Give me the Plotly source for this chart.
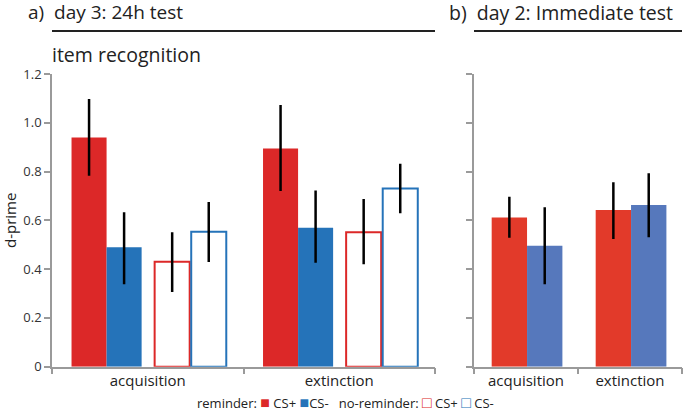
import plotly.graph_objects as go

# ---- data ----
cats = ["acquisition", "extinction"]

# panel a: day 3, 24h test (item recognition)
a_rem_csp = [0.94, 0.895]
a_rem_csp_hi = [1.097, 1.073]
a_rem_csp_lo = [0.783, 0.72]
a_rem_csm = [0.49, 0.57]
a_rem_csm_hi = [0.633, 0.722]
a_rem_csm_lo = [0.338, 0.426]
a_norem_csp = [0.43, 0.551]
a_norem_csp_hi = [0.551, 0.688]
a_norem_csp_lo = [0.306, 0.42]
a_norem_csm = [0.553, 0.731]
a_norem_csm_hi = [0.675, 0.832]
a_norem_csm_lo = [0.429, 0.629]

# panel b: day 2, immediate test
b_csp = [0.612, 0.642]
b_csp_hi = [0.697, 0.756]
b_csp_lo = [0.529, 0.524]
b_csm = [0.496, 0.663]
b_csm_hi = [0.654, 0.793]
b_csm_lo = [0.338, 0.531]

yticks = [0, 0.2, 0.4, 0.6, 0.8, 1.0, 1.2]
yticklabels = ["0", "0.2", "0.4", "0.6", "0.8", "1.0", "1.2"]

RED_A = "#dc2828"
BLUE_A = "#2573b9"
RED_B = "#e23a2a"
BLUE_B = "#5678bc"
FONT = "Open Sans"

W, H = 685, 414


def err(vals, hi, lo):
    return dict(type="data", symmetric=False,
                array=[h - v for v, h in zip(vals, hi)],
                arrayminus=[v - l for v, l in zip(vals, lo)],
                color="black", thickness=2.5, width=0)


fig = go.Figure()

bw = 0.183
# panel a traces
fig.add_trace(go.Bar(x=cats, y=a_rem_csp, width=bw, offset=-0.398,
                     marker=dict(color=RED_A, line=dict(width=0)),
                     error_y=err(a_rem_csp, a_rem_csp_hi, a_rem_csp_lo),
                     name="reminder: CS+", xaxis="x", yaxis="y"))
fig.add_trace(go.Bar(x=cats, y=a_rem_csm, width=bw, offset=-0.215,
                     marker=dict(color=BLUE_A, line=dict(width=0)),
                     error_y=err(a_rem_csm, a_rem_csm_hi, a_rem_csm_lo),
                     name="reminder: CS-", xaxis="x", yaxis="y"))
fig.add_trace(go.Bar(x=cats, y=a_norem_csp, width=bw, offset=0.036,
                     marker=dict(color="white", line=dict(width=2, color=RED_A)),
                     error_y=err(a_norem_csp, a_norem_csp_hi, a_norem_csp_lo),
                     name="no-reminder: CS+", xaxis="x", yaxis="y"))
fig.add_trace(go.Bar(x=cats, y=a_norem_csm, width=bw, offset=0.227,
                     marker=dict(color="white", line=dict(width=2, color=BLUE_A)),
                     error_y=err(a_norem_csm, a_norem_csm_hi, a_norem_csm_lo),
                     name="no-reminder: CS-", xaxis="x", yaxis="y"))

# panel b traces
bwb = 0.34
fig.add_trace(go.Bar(x=cats, y=b_csp, width=bwb, offset=-0.33,
                     marker=dict(color=RED_B, line=dict(width=0)),
                     error_y=err(b_csp, b_csp_hi, b_csp_lo),
                     name="CS+", xaxis="x2", yaxis="y2"))
fig.add_trace(go.Bar(x=cats, y=b_csm, width=bwb, offset=0.01,
                     marker=dict(color=BLUE_B, line=dict(width=0)),
                     error_y=err(b_csm, b_csm_hi, b_csm_lo),
                     name="CS-", xaxis="x2", yaxis="y2"))

ydom = [(H - 366.7) / H, (H - 74) / H]
axis_common = dict(showline=True, linecolor="#9a9a9a", linewidth=1.5,
                   ticks="outside", tickcolor="#9a9a9a", ticklen=6, tickwidth=1.5,
                   showgrid=False, zeroline=False)

fig.update_layout(
    width=W, height=H,
    margin=dict(l=0, r=0, t=0, b=0),
    paper_bgcolor="white", plot_bgcolor="white",
    barmode="overlay",
    showlegend=False,
    font=dict(family=FONT, color="#222222"),
    xaxis=dict(domain=[52 / W, 435 / W], type="category", tickson="boundaries",
               range=[-0.5, 1.5], tickfont=dict(size=15, color="#222"),
               anchor="y", automargin=False, **axis_common),
    yaxis=dict(domain=ydom, range=[0, 1.2], tickvals=yticks, ticktext=yticklabels,
               tickfont=dict(size=13, color="#333"), anchor="x", automargin=False,
               title=dict(text="d-prime", font=dict(size=15, color="#222"), standoff=6),
               **axis_common),
    xaxis2=dict(domain=[474 / W, 682 / W], type="category", tickson="boundaries",
                range=[-0.5, 1.5], tickfont=dict(size=15, color="#222"),
                anchor="y2", automargin=False, **axis_common),
    yaxis2=dict(domain=ydom, range=[0, 1.2], tickvals=yticks, showticklabels=False,
                anchor="x2", automargin=False, **axis_common),
)

# legend line (text key at bottom)
sq = "<span style='font-size:16px;color:{c}'>{g}</span>"
legend_text = (
    "reminder: " + sq.format(c=RED_A, g="■") + " CS+ "
    + sq.format(c=BLUE_A, g="■") + "CS-   no-reminder: "
    + sq.format(c=RED_A, g="□") + " CS+ " + sq.format(c=BLUE_A, g="□") + " CS-"
)
fig.add_annotation(text=legend_text, x=345 / W, y=(H - 402) / H, xref="paper", yref="paper",
                   xanchor="center", yanchor="middle", showarrow=False,
                   font=dict(size=13, color="#222"))

# headers
fig.add_annotation(text="a)  day 3: 24h test", x=26 / W, y=1 + 3 / H, xref="paper", yref="paper",
                   xanchor="left", yanchor="top", showarrow=False, font=dict(size=19, color="#222"))
fig.add_annotation(text="item recognition", x=50 / W, y=1 - 39 / H, xref="paper", yref="paper",
                   xanchor="left", yanchor="top", showarrow=False, font=dict(size=19.5, color="#222"))
fig.add_annotation(text="b)  day 2: Immediate test", x=447 / W, y=1 + 3 / H, xref="paper", yref="paper",
                   xanchor="left", yanchor="top", showarrow=False, font=dict(size=19.5, color="#222"))
fig.add_shape(type="line", xref="paper", yref="paper", x0=52 / W, x1=435 / W,
              y0=1 - 31 / H, y1=1 - 31 / H, line=dict(color="#222", width=2))
fig.add_shape(type="line", xref="paper", yref="paper", x0=474 / W, x1=682 / W,
              y0=1 - 31 / H, y1=1 - 31 / H, line=dict(color="#222", width=2))

fig.write_html("out.html", config={"displayModeBar": False},
               post_script="document.body.style.margin='0';document.body.style.overflow='hidden';")
